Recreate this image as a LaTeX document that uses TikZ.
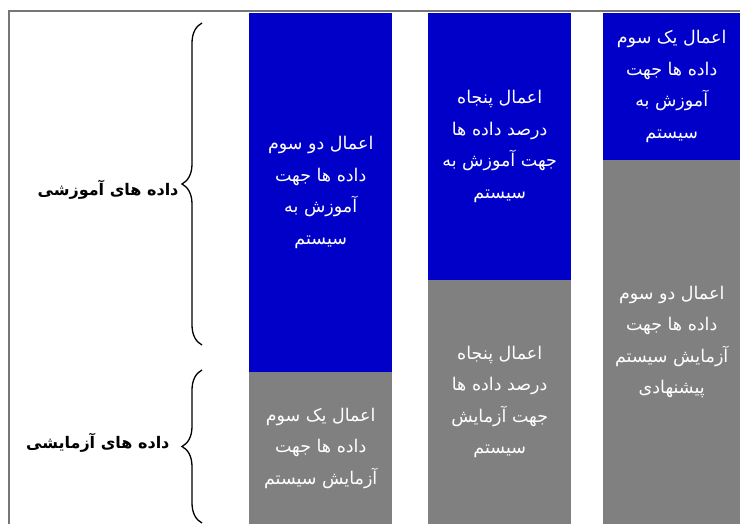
\documentclass[tikz,border=0pt]{standalone}
\usepackage{fontspec}
\newfontfamily\arabicfont[Script=Arabic]{DejaVu Sans}
\TeXXeTstate=1
\usetikzlibrary{decorations.pathreplacing}
\definecolor{trainblue}{RGB}{0,0,200}
\definecolor{testgray}{RGB}{128,128,128}
\definecolor{framegray}{RGB}{118,118,118}
\newcommand{\rl}[1]{\beginR #1\endR}

\begin{document}
\begin{tikzpicture}[x=1pt,y=-1pt,
 blk/.style={anchor=north west, inner sep=0pt, minimum width=143, text=white, align=center,
   font=\arabicfont\fontsize{17.5}{31.5}\selectfont},
 train/.style={blk, fill=trainblue},
 test/.style={blk, fill=testgray},
 lbl/.style={anchor=east, font=\arabicfont\bfseries\fontsize{16}{20}\selectfont},
 brc/.style={decorate, decoration={brace, amplitude=20pt}, line width=1.3pt}]
 \useasboundingbox (0,0) rectangle (740,524);
 \draw[framegray, line width=2pt] (9,524) |- (740,11);

 \node[train, minimum height=359] (tr1) at (249,13) {\rl{اعمال دو سوم}\\\rl{داده ها جهت}\\\rl{آموزش به}\\\rl{سیستم}};
 \node[test, minimum height=152] (ts1) at (249,372) {\rl{اعمال یک سوم}\\\rl{داده ها جهت}\\\rl{آزمایش سیستم}};

 \node[train, minimum height=267] (tr2) at (428,13) {\rl{اعمال پنجاه}\\\rl{درصد داده ها}\\\rl{جهت آموزش به}\\\rl{سیستم}};
 \node[test, minimum height=244] (ts2) at (428,280) {\rl{اعمال پنجاه}\\\rl{درصد داده ها}\\\rl{جهت آزمایش}\\\rl{سیستم}};

 \node[train, minimum width=137, minimum height=147] (tr3) at (603,13) {\rl{اعمال یک سوم}\\\rl{داده ها جهت}\\\rl{آموزش به}\\\rl{سیستم}};
 \node[test, minimum width=137, minimum height=364] (ts3) at (603,160) {\rl{اعمال دو سوم}\\\rl{داده ها جهت}\\\rl{آزمایش سیستم}\\\rl{پیشنهادی}};

 \coordinate (trtop) at (202,23);
 \coordinate (trbot) at (202,345);
 \coordinate (tstop) at (202,370);
 \coordinate (tsbot) at (202,523);
 \draw[brc] (trbot) -- (trtop);
 \draw[brc] (tsbot) -- (tstop);

 \node[lbl] (trlbl) at (182,190) {\rl{داده های آموزشی}};
 \node[lbl] (tslbl) at (173,443) {\rl{داده های آزمایشی}};
\end{tikzpicture}
\end{document}
